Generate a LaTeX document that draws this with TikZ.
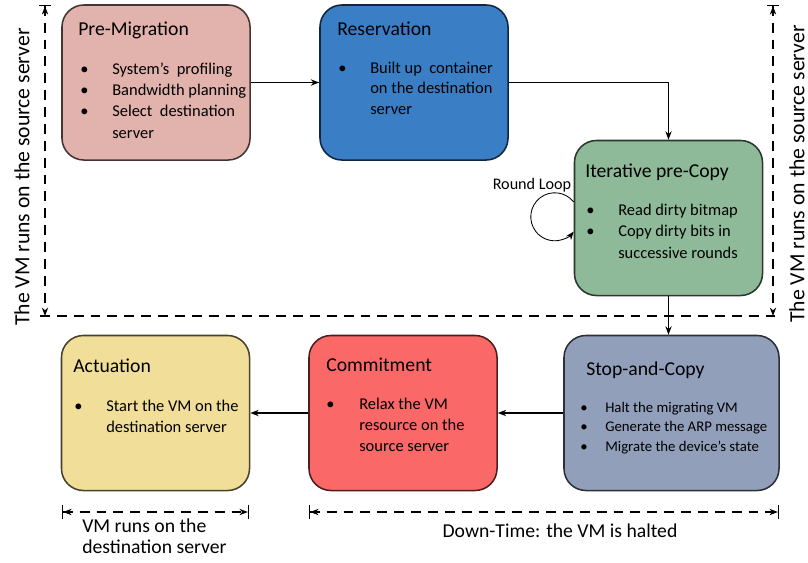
\documentclass[tikz,border=0pt]{standalone}
\usepackage{fontspec}
\setmainfont{Carlito}
\usetikzlibrary{arrows.meta,calc,positioning}
\definecolor{premig}{RGB}{226,178,172}
\definecolor{reserv}{RGB}{58,126,198}
\definecolor{itercp}{RGB}{143,186,153}
\definecolor{stopcp}{RGB}{146,159,186}
\definecolor{commit}{RGB}{250,104,104}
\definecolor{actuat}{RGB}{241,223,153}
\newcommand{\bitems}[2]{\begin{tabular}[t]{@{}p{#1}@{}l@{}}#2\end{tabular}}

\begin{document}
\begin{tikzpicture}[x=0.025cm,y=-0.025cm,
box/.style={draw=#1!30!black,fill=#1,rounded corners=0.55cm,line width=1.1pt,
  minimum width=4.7cm,minimum height=3.875cm},
head/.style={anchor=base west,inner sep=0pt,font=\fontsize{14}{17}\selectfont},
items/.style={anchor=base west,inner sep=0pt,font=\fontsize{11.7}{15.2}\selectfont},
flow/.style={-{Stealth[length=6pt,width=4.5pt]},line width=0.9pt},
dim/.style={dash pattern=on 7pt off 5pt,line width=0.8pt},
side/.style={rotate=90,inner sep=0pt,font=\fontsize{15.4}{18}\selectfont}]
\useasboundingbox (0,0) rectangle (808,562);
\node[box=premig] (Pre) at (156,82.5) {};
\node[box=reserv] (Res) at (414,82.5) {};
\node[box=itercp] (Iter) at (668.5,218) {};
\node[box=stopcp,minimum width=5.375cm] (Stop) at (671.5,413) {};
\node[box=commit] (Comm) at (403,413) {};
\node[box=actuat] (Act) at (155.5,413) {};
\node[head] (PreT) at (78,35) {Pre-Migration};
\node[head] (ResT) at (337,35) {Reservation};
\node[head] (IterT) at (585,177) {Iterative pre-Copy};
\node[head] (StopT) at (586,375) {Stop-and-Copy};
\node[head] (CommT) at (326,371) {Commitment};
\node[head] (ActT) at (73,372) {Actuation};
\node[items] (PreL) at (80,74) {\bitems{0.8cm}{\textbullet & System's~ profiling\\
  \textbullet & Bandwidth planning\\ \textbullet & Select~ destination\\ & server}};
\node[items,font=\fontsize{11.7}{14.9}\selectfont] (ResL) at (338,73) {\bitems{0.8cm}{\textbullet & Built up~ container\\
  & on the destination\\ & server}};
\node[items,font=\fontsize{11.7}{15.4}\selectfont] (IterL) at (586,215) {\bitems{0.8cm}{\textbullet & Read dirty bitmap\\
  \textbullet & Copy dirty bits in\\ & successive rounds}};
\node[items,font=\fontsize{10.5}{14.2}\selectfont] (StopL) at (580,412) {\bitems{0.625cm}{\textbullet & Halt the migrating VM\\
  \textbullet & Generate the ARP message\\ \textbullet & Migrate the device's state}};
\node[items] (CommL) at (326,409) {\bitems{0.825cm}{\textbullet & Relax the VM\\
  & resource on the\\ & source server}};
\node[items] (ActL) at (74,411) {\bitems{0.8cm}{\textbullet & Start the VM on the\\
  & destination server}};
\draw[flow] (Pre.east) -- (Res.west);
\draw[flow] (Res.east) -| (Iter.north);
\draw[flow] (Iter.south) -- (Iter.south |- Stop.north);
\draw[flow] (Stop.west) -- (Comm.east);
\draw[flow] (Comm.west) -- (Act.east);
\coordinate (LoopA) at ($(Iter.west)+(0,-16)$);
\draw[flow,line width=0.6pt] (LoopA) arc[start angle=38,end angle=322,radius=0.6cm];
\node[font=\fontsize{11.5}{14}\selectfont] (LoopT) at (532,185) {Round Loop};
\coordinate (H1) at (40,316);
\coordinate (H2) at (775,316);
\draw[dim] (H1) -- (H2);
\coordinate (V1) at (45,5);
\coordinate (V2) at (45,316);
\coordinate (V3) at (773,5);
\coordinate (V4) at (773,316);
\draw[dim,{Bar[width=8pt]Stealth[length=6pt,width=4.5pt]}-{Stealth[length=6pt,width=4.5pt]}] (V1) -- (V2);
\draw[dim,{Bar[width=8pt]Stealth[length=6pt,width=4.5pt]}-{Stealth[length=6pt,width=4.5pt]}] (V3) -- (V4);
\node[side] (SideL) at (22,177) {The VM runs on the source server};
\node[side] (SideR) at (797,174) {The VM runs on the source server};
\coordinate (D1) at (62,512);
\coordinate (D2) at (249,512);
\coordinate (D3) at (309,512);
\coordinate (D4) at (779,512);
\draw[dim,{Bar[width=10pt]Stealth[length=6pt,width=4.5pt]}-{Stealth[length=6pt,width=4.5pt]Bar[width=10pt]}] (D1) -- (D2);
\draw[dim,{Bar[width=10pt]Stealth[length=6pt,width=4.5pt]}-{Stealth[length=6pt,width=4.5pt]Bar[width=10pt]}] (D3) -- (D4);
\node[anchor=base west,inner sep=0pt,font=\fontsize{14}{15}\selectfont] (ActD) at (82,532)
  {\begin{tabular}[t]{@{}l@{}}VM runs on the\\destination server\end{tabular}};
\node[anchor=base,inner sep=0pt,font=\fontsize{14}{17}\selectfont] (DownD) at (560,537) {Down-Time: the VM is halted};
\end{tikzpicture}
\end{document}
